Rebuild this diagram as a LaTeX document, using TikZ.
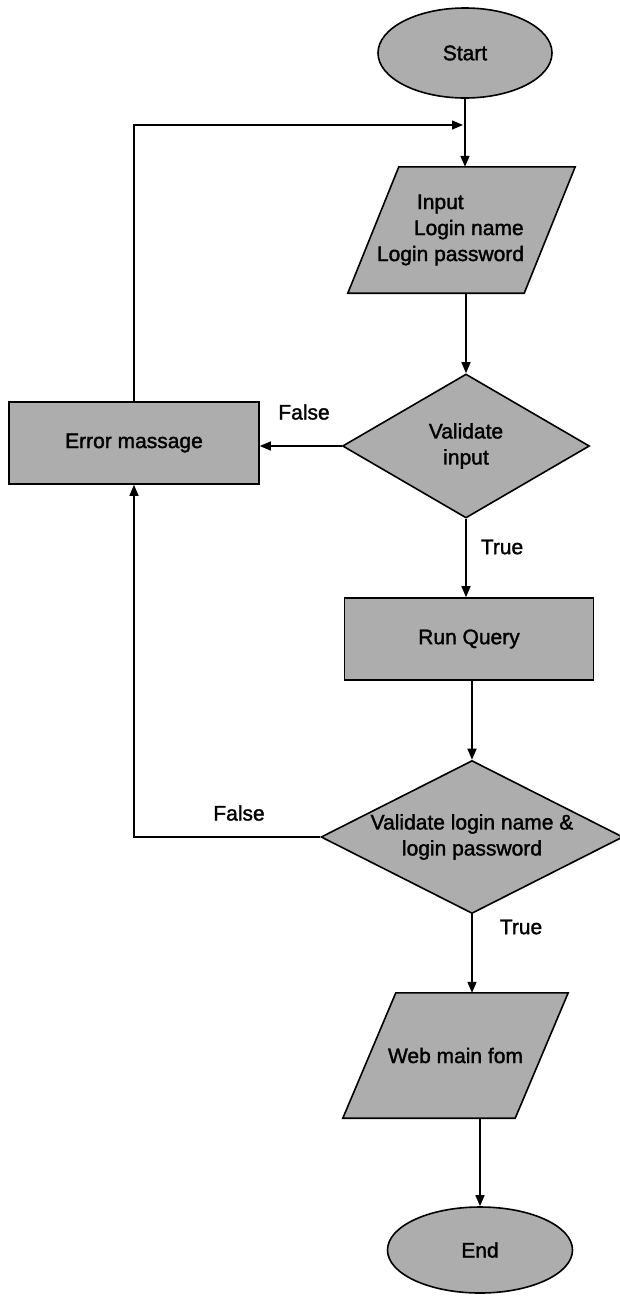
\documentclass[tikz,border=0pt]{standalone}
\usepackage{fontspec}
\setmainfont{Liberation Sans}[FakeBold=1.6]
\usetikzlibrary{shapes.geometric,arrows.meta,backgrounds}

\tikzset{
  every node/.style={font=\fontsize{21}{26}\selectfont},
  shapefill/.style={draw=black, line width=1.6pt, fill=black!32},
  terminal/.style={shapefill, ellipse, inner sep=0pt},
  iobox/.style={rectangle, inner sep=0pt},
  procbox/.style={shapefill, rectangle, inner sep=0pt},
  decision/.style={shapefill, diamond, inner sep=0pt},
  flow/.style={draw=black, line width=1.5pt,
    -{Triangle[length=11pt,width=9pt]}},
  branch/.style={inner sep=0pt}
}

\begin{document}
\begin{tikzpicture}[x=1pt,y=-1pt]
\useasboundingbox (0,0) rectangle (620,1296);

% main column
\node[terminal, minimum width=174pt, minimum height=90pt] (start) at (465,53) {Start};
\node[iobox, minimum width=227pt, minimum height=126pt, align=left] (input) at (461.5,230)
  {\hspace*{40pt}Input\\\hspace*{37pt}Login name\\Login password\hspace*{22pt}};
\node[decision, minimum width=247pt, minimum height=144pt, align=center] (valin) at (466,446)
  {Validate\\input};
\node[procbox, minimum width=249pt, minimum height=82pt] (query) at (469,639) {Run Query};
\node[decision, aspect=2, minimum width=302pt, minimum height=153pt, align=center] (vallog) at (472,837)
  {Validate login name \&\\login password};
\node[iobox, minimum width=225pt, minimum height=125pt] (web) at (455.5,1055.5) {Web main fom};
\node[terminal, minimum width=185pt, minimum height=86pt] (end) at (480,1250) {End};

% error branch
\node[procbox, minimum width=250pt, minimum height=82pt] (err) at (134,443) {Error massage};

% slanted input/output boxes drawn behind their text
\begin{scope}[on background layer]
  \draw[shapefill] ([xshift=51pt]input.north west) -- (input.north east)
    -- ([xshift=-51pt]input.south east) -- (input.south west) -- cycle;
  \draw[shapefill] ([xshift=53pt]web.north west) -- (web.north east)
    -- ([xshift=-53pt]web.south east) -- (web.south west) -- cycle;
\end{scope}

% branch labels
\node[branch] (f1) at (304,412) {False};
\node[branch] (t1) at (502,547) {True};
\node[branch] (f2) at (239,813) {False};
\node[branch] (t2) at (521,927) {True};

% joint where the retry loop meets the input line
\coordinate (join) at (463,125);

% connectors
\draw[flow] (start.south) -- (start.south |- input.north);
\draw[flow] (err.north) |- (join);
\draw[flow] (valin.north |- input.south) -- (valin.north);
\draw[flow] (valin.west) -- (valin.west -| err.east);
\draw[flow] (valin.south) -- (valin.south |- query.north);
\draw[flow] (vallog.north |- query.south) -- (vallog.north);
\draw[flow] (vallog.west) -| (err.south);
\draw[flow] (vallog.south) -- (vallog.south |- web.north);
\draw[flow] (end.north |- web.south) -- (end.north);
\end{tikzpicture}
\end{document}
